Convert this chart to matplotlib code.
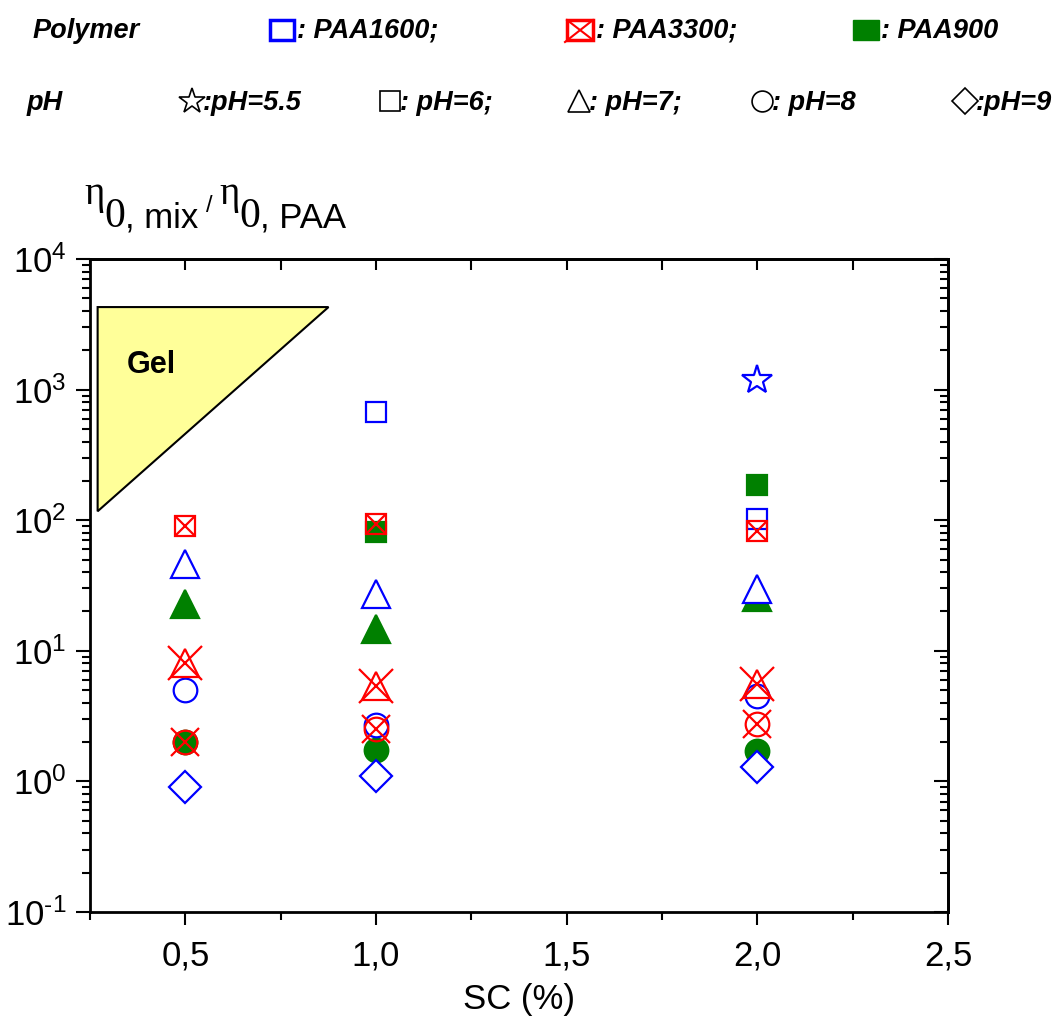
import numpy as np
import matplotlib
matplotlib.use("Agg")
import matplotlib.pyplot as plt
from matplotlib.ticker import MultipleLocator, FuncFormatter, NullFormatter
from matplotlib.patches import Polygon, Rectangle

# Solid content of the mixtures, SC (%)
sc = [0.5, 1.0, 2.0]
nan = np.nan

# Relative zero-shear viscosity eta0,mix / eta0,PAA
paa1600_ph55 = [nan, nan, 1180]
paa1600_ph6 = [nan, 670, 103]
paa1600_ph7 = [46, 27, 29.5]
paa1600_ph8 = [5.0, 2.7, 4.5]
paa1600_ph9 = [0.9, 1.1, 1.3]

paa3300_ph6 = [91, 93, 83]
paa3300_ph7 = [8.0, 5.4, 5.6]
paa3300_ph8 = [2.0, 2.5, 2.73]

paa900_ph6 = [nan, 81, 185]
paa900_ph7 = [23, 14.6, 26]
paa900_ph8 = [2.0, 1.73, 1.7]

# Gel domain corners (SC, viscosity ratio)
gel_sc = [0.270, 0.8755, 0.270]
gel_ratio = [4285, 4285, 117]

plt.rcParams["font.family"] = ["Liberation Sans", "DejaVu Sans"]
plt.rcParams["mathtext.fontset"] = "custom"
plt.rcParams["mathtext.rm"] = "Liberation Sans"
plt.rcParams["mathtext.it"] = "Liberation Sans:italic"
plt.rcParams["mathtext.bf"] = "Liberation Sans:bold"

W, H = 1057, 1017
fig = plt.figure(figsize=(W / 100, H / 100), dpi=100)
ax = fig.add_axes([90 / W, 105 / H, 858 / W, 653 / H])

GREEN, BLUE, RED = "#008000", "#0000ff", "#ff0000"
LW = 1.6

# PAA900: filled, lowest layer
for vals, mk, ms in [(paa900_ph6, "s", 15), (paa900_ph7, "^", 20), (paa900_ph8, "o", 17)]:
    ax.plot(sc, vals, ls="none", marker=mk, ms=ms, mfc=GREEN, mec=GREEN,
            mew=LW, zorder=3, clip_on=False)

# PAA1600: open symbols with white face
for vals, mk, ms in [(paa1600_ph55, "*", 22), (paa1600_ph6, "s", 15),
                     (paa1600_ph7, "^", 20), (paa1600_ph8, "o", 17),
                     (paa1600_ph9, "D", 16)]:
    ax.plot(sc, vals, ls="none", marker=mk, ms=ms, mfc="white", mec=BLUE,
            mew=LW, zorder=4, clip_on=False)

# PAA3300: open symbols crossed by an x
for vals, mk, ms, xs in [(paa3300_ph6, "s", 15, 15), (paa3300_ph7, "^", 20, 25),
                         (paa3300_ph8, "o", 17, 19.5)]:
    ax.plot(sc, vals, ls="none", marker=mk, ms=ms, mfc="none", mec=RED,
            mew=LW, zorder=5, clip_on=False)
    ax.plot(sc, vals, ls="none", marker="x", ms=xs, mec=RED, mew=LW,
            zorder=5, clip_on=False)

# Gel region
ax.add_patch(Polygon(np.column_stack([gel_sc, gel_ratio]), closed=True,
                     fc="#ffff99", ec="black", lw=1.5, zorder=2))
ax.text(0.347, 1350, "Gel", fontsize=22, fontweight="bold", va="baseline", zorder=6)

ax.set_yscale("log")
ax.set_ylim(0.1, 1e4)
ax.set_xlim(0.25, 2.5)


def log_label(v, pos):
    e = int(round(np.log10(v)))
    sign = "\u2010" if e < 0 else ""
    return r"$\mathregular{10^{%s%d}}$" % (sign, abs(e))


ax.xaxis.set_major_locator(MultipleLocator(0.5))
ax.xaxis.set_minor_locator(MultipleLocator(0.25))
ax.xaxis.set_major_formatter(FuncFormatter(lambda v, p: f"{v:.1f}".replace(".", ",")))
ax.yaxis.set_major_formatter(FuncFormatter(log_label))
ax.yaxis.set_minor_formatter(NullFormatter())

ax.tick_params(axis="x", which="major", direction="out", length=9.5, width=1.5,
               labelsize=25, pad=10, top=False)
ax.tick_params(axis="x", which="minor", direction="out", length=6, width=1.5, top=False)
ax.tick_params(axis="y", which="major", direction="out", length=10, width=1.5,
               labelsize=25, pad=7, right=False)
ax.tick_params(axis="y", which="minor", direction="out", length=6, width=1.5, right=False)
for s in ax.spines.values():
    s.set_linewidth(2)

secx = ax.secondary_xaxis("top")
secx.xaxis.set_major_locator(MultipleLocator(0.25))
secx.tick_params(axis="x", which="both", direction="in", length=8, width=1.5,
                 labeltop=False)
secx.spines["top"].set_linewidth(2)

secy = ax.secondary_yaxis("right")
secy.tick_params(axis="y", which="major", direction="in", length=10, width=1.5,
                 labelright=False)
secy.tick_params(axis="y", which="minor", direction="in", length=6, width=1.5,
                 labelright=False)
secy.yaxis.set_minor_formatter(NullFormatter())
secy.spines["right"].set_linewidth(2)

ax.set_xlabel("SC (%)", fontsize=25, labelpad=8)

# Y-axis title above the plot, assembled piece by piece
renderer = fig.canvas.get_renderer()
serif = ["Liberation Serif", "DejaVu Serif"]
sans = ["Liberation Sans", "DejaVu Sans"]
pieces = [
    ("\u03b7", serif, 28, 204, 0),
    ("0", serif, 30, 227, 0),
    (", mix", sans, 25, 227, 0),
    ("/", sans, 17, 212, 7),
    ("\u03b7", serif, 28, 204, 7),
    ("0", serif, 30, 227, 0),
    (", PAA", sans, 25, 227, 0),
]
x = 84
for s, fam, size, base, gap in pieces:
    x += gap
    t = fig.text(x / W, 1 - base / H, s, family=fam, fontsize=size,
                 ha="left", va="baseline")
    x = t.get_window_extent(renderer).x1

# Symbol keys at the top of the figure
lg = fig.add_axes([0, 0, 1, 1], zorder=10)
lg.set_xlim(0, W)
lg.set_ylim(H, 0)
lg.axis("off")

kw = dict(fontsize=19.5, fontweight="bold", fontstyle="italic", va="baseline", ha="left")
row1, row2 = 38, 110
lg.text(33, row1, "Polymer", **kw)
lg.add_patch(Rectangle((270, 20), 24, 20, fill=False, ec=BLUE, lw=2.5))
lg.text(297, row1, ": PAA1600;", **kw)
lg.add_patch(Rectangle((567, 20), 26, 20, fill=False, ec=RED, lw=2.5))
lg.plot([565, 593], [42, 20], color=RED, lw=1.5)
lg.plot([567, 593], [20, 40], color=RED, lw=1.5)
lg.text(596, row1, ": PAA3300;", **kw)
lg.add_patch(Rectangle((853, 20), 26, 20, fc=GREEN, ec=GREEN, lw=1))
lg.text(881, row1, ": PAA900", **kw)

lg.text(27, row2, "pH", **kw)
keys = [("*", 192, 19, ":pH=5.5", 203),
        ("s", 390, 14, ": pH=6;", 400),
        ("^", 579, 16, ": pH=7;", 589),
        ("o", 762, 15, ": pH=8", 772),
        ("D", 965, 13, ":pH=9", 976)]
for mk, kx, ms, label, tx in keys:
    lg.plot([kx], [row2 - 9], marker=mk, ms=ms, mfc="none", mec="black", mew=1.2)
    lg.text(tx, row2, label, **kw)

fig.savefig("out.png", dpi=100)
